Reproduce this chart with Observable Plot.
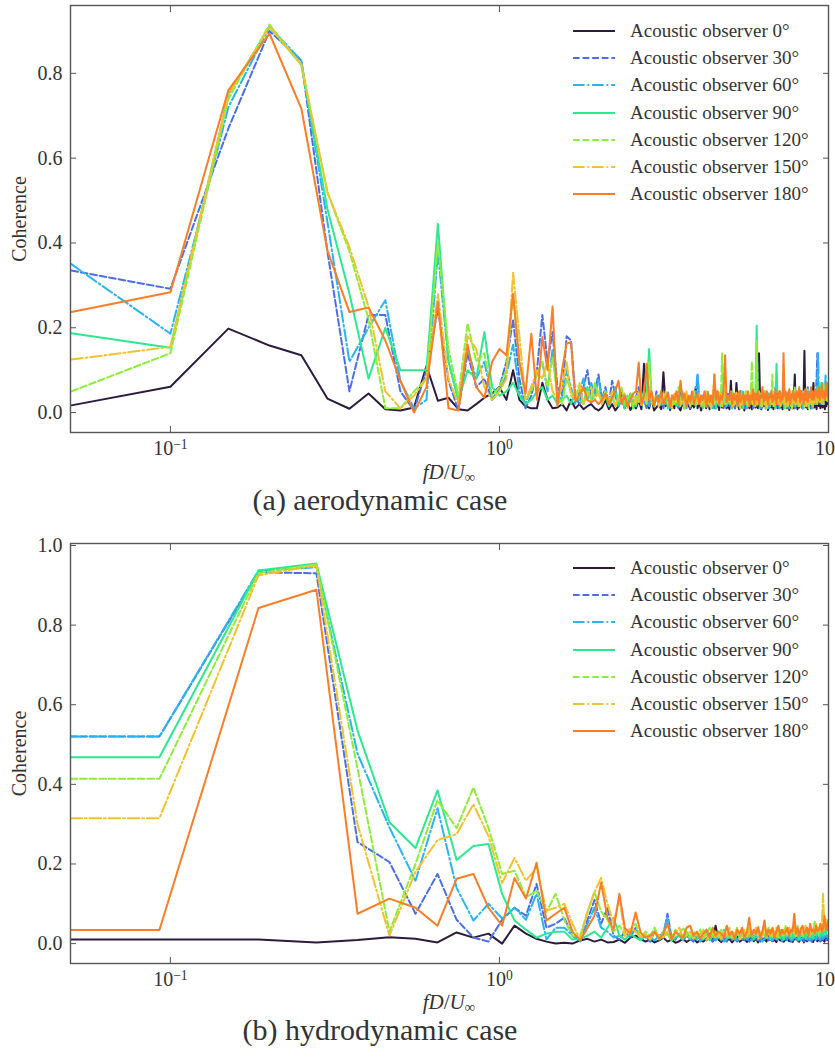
<!DOCTYPE html>
<html>
<head>
<meta charset="utf-8">
<script src="https://cdn.jsdelivr.net/npm/d3@7"></script>
<script src="https://cdn.jsdelivr.net/npm/@observablehq/plot@0.6"></script>
<style>
  html, body { margin: 0; padding: 0; background: #fff; overflow: hidden; }
  body { width: 835px; height: 1057px; position: relative; font-family: "Liberation Serif", "DejaVu Serif", serif; color: #333; }
  .abs { position: absolute; }
  .legend { font-size: 19px; color: #333; }
  .legend .row { display: flex; align-items: center; height: 27.3px; white-space: nowrap; }
  .legend svg { margin-right: 15px; }
  .xlabel { font-size: 21px; text-align: center; width: 898px; left: 0; line-height: 20px; }
  .xlabel sub { font-size: 0.7em; vertical-align: -0.2em; line-height: 0; }
  .caption { font-size: 30px; text-align: center; width: 760px; left: 0; line-height: 24px; }
</style>
</head>
<body>
<script>
// Observer angles and their line styles
const angles = ["0", "30", "60", "90", "120", "150", "180"];
const colors = ["#2c1b3d", "#4a6ee6", "#28b4f0", "#2de88e", "#8ded3a", "#f2c12e", "#fb7d27"];
const dashes = [null, "6.7,2.9", "11.5,2.9,1.8,2.9", null, "6.7,2.9", "11.5,2.9,1.8,2.9", null];

// Frequency resolution of each spectrum (fD/U)
const binA = 0.05;
const binB = 0.0926;

// x tick values (log axis) and y tick values
const xTicks = [0.1, 1, 10];
const yTicksA = [0, 0.2, 0.4, 0.6, 0.8];
const yTicksB = [0, 0.2, 0.4, 0.6, 0.8, 1.0];

// (a) aerodynamic case: coherence per frequency bin (k = 1..200)
const aero0 = [
  .017,.061,.198,.158,.135,.033,.009,.045,.008,.005,.012,.11,.028,.035,.008,.005,.02,.035,.045,.06,
  .03,.10,.03,.015,.01,.01,.07,.03,.01,.012,.02,.005,.03,.01,.02,.008,.015,.02,.01,.005,
  .012,.03,.008,.02,.005,.015,.04,.01,.025,.006,.018,.01,.03,.008,.115,.02,.01,.035,.005,.012,
  .02,.008,.095,.015,.03,.006,.02,.01,.04,.012,.005,.025,.01,.03,.018,.008,.02,.012,.06,.01,
  .025,.005,.018,.03,.01,.04,.008,.02,.015,.05,.01,.025,.006,.03,.012,.02,.045,.01,.018,.008,
  .075,.015,.03,.01,.07,.02,.008,.035,.012,.025,.005,.04,.015,.02,.01,.03,.008,.05,.018,.012,
  .025,.01,.14,.02,.008,.03,.015,.045,.01,.022,.006,.035,.018,.012,.04,.008,.025,.015,.03,.01,
  .02,.05,.012,.028,.008,.035,.015,.02,.01,.045,.018,.006,.03,.012,.025,.01,.04,.09,.015,.02,
  .008,.03,.012,.05,.018,.025,.01,.035,.146,.02,.012,.03,.008,.04,.015,.025,.01,.02,.035,.07,
  .012,.03,.018,.008,.04,.02,.015,.03,.01,.025,.045,.012,.02,.035,.008,.03,.015,.04,.02,.03
];
const aero30 = [
  .335,.292,.67,.90,.83,.38,.05,.23,.23,.05,.005,.10,.245,.075,.005,.14,.06,.08,.03,.06,
  .12,.22,.08,.01,.04,.10,.23,.12,.19,.06,.04,.18,.17,.04,.02,.06,.10,.03,.05,.09,
  .03,.06,.02,.075,.04,.015,.05,.03,.02,.045,.01,.035,.06,.02,.03,.01,.04,.025,.015,.05,
  .02,.03,.01,.045,.025,.015,.04,.02,.03,.01,.05,.02,.035,.015,.03,.01,.04,.02,.03,.087,
  .02,.04,.015,.03,.01,.045,.025,.02,.035,.01,.03,.05,.015,.025,.04,.01,.03,.02,.045,.015,
  .03,.02,.04,.01,.035,.025,.015,.05,.02,.03,.01,.04,.025,.015,.035,.02,.045,.01,.03,.02,
  .04,.015,.03,.025,.01,.05,.02,.035,.015,.03,.045,.01,.025,.04,.02,.03,.015,.06,.02,.03,
  .01,.04,.025,.02,.035,.015,.03,.05,.02,.01,.04,.025,.03,.015,.045,.02,.035,.01,.03,.025,
  .04,.015,.03,.02,.05,.01,.035,.025,.02,.04,.015,.03,.06,.02,.025,.035,.01,.04,.03,.02,
  .045,.025,.03,.08,.14,.05,.03,.06,.02,.04,.07,.03,.05,.02,.06,.04,.03,.05,.03,.04
];
const aero60 = [
  .35,.186,.72,.91,.83,.45,.12,.20,.265,.075,.01,.03,.38,.12,.03,.15,.08,.12,.03,.05,
  .09,.16,.05,.02,.06,.09,.12,.05,.15,.04,.03,.10,.06,.02,.05,.08,.03,.07,.04,.08,
  .03,.05,.02,.04,.06,.015,.03,.045,.02,.035,.01,.04,.025,.05,.02,.03,.015,.045,.02,.03,
  .04,.015,.03,.02,.05,.01,.035,.025,.04,.015,.03,.02,.045,.01,.03,.025,.04,.02,.05,.09,
  .03,.02,.04,.015,.03,.05,.02,.035,.01,.04,.025,.03,.015,.045,.02,.03,.05,.015,.035,.02,
  .04,.01,.03,.025,.045,.02,.035,.015,.03,.05,.02,.04,.01,.03,.025,.04,.02,.05,.015,.03,
  .035,.02,.045,.01,.03,.025,.04,.015,.05,.02,.03,.01,.04,.025,.035,.02,.045,.015,.03,.02,
  .04,.01,.035,.025,.05,.02,.03,.015,.04,.025,.035,.01,.045,.02,.03,.05,.015,.04,.02,.03,
  .025,.04,.015,.035,.02,.05,.01,.03,.045,.02,.035,.015,.04,.025,.05,.02,.03,.04,.015,.035,
  .02,.045,.03,.05,.07,.14,.04,.06,.03,.05,.025,.04,.06,.03,.05,.09,.04,.06,.03,.05
];
const aero90 = [
  .187,.153,.75,.91,.82,.48,.28,.08,.20,.10,.10,.10,.445,.12,.03,.10,.08,.19,.06,.04,
  .05,.07,.04,.02,.03,.05,.06,.03,.04,.02,.03,.04,.02,.05,.03,.02,.06,.03,.04,.05,
  .02,.04,.015,.03,.05,.02,.035,.01,.04,.025,.03,.015,.045,.02,.03,.05,.15,.03,.02,.04,
  .015,.03,.02,.045,.01,.03,.025,.04,.015,.035,.02,.05,.01,.03,.025,.04,.02,.03,.015,.04,
  .025,.035,.01,.045,.02,.03,.015,.04,.025,.05,.01,.03,.02,.04,.06,.025,.035,.015,.03,.02,
  .045,.01,.03,.025,.04,.015,.035,.02,.05,.01,.03,.025,.04,.015,.035,.02,.06,.03,.015,.04,
  .205,.03,.02,.04,.015,.035,.025,.05,.01,.03,.02,.045,.015,.03,.04,.02,.035,.01,.115,.03,
  .02,.04,.015,.035,.025,.05,.01,.03,.02,.045,.015,.04,.025,.03,.01,.05,.02,.035,.015,.04,
  .025,.03,.05,.015,.04,.02,.035,.01,.045,.025,.03,.02,.05,.015,.04,.03,.02,.045,.01,.035,
  .03,.05,.02,.04,.06,.03,.05,.025,.04,.07,.03,.05,.02,.04,.06,.03,.045,.05,.03,.04
];
const aero120 = [
  .05,.14,.74,.915,.82,.52,.38,.22,.01,.01,.05,.08,.40,.15,.04,.21,.12,.14,.04,.06,
  .10,.28,.12,.03,.05,.09,.12,.06,.13,.04,.02,.08,.05,.03,.06,.02,.05,.03,.07,.04,
  .03,.05,.02,.04,.015,.035,.06,.02,.03,.045,.01,.04,.025,.03,.05,.02,.12,.035,.015,.04,
  .025,.05,.02,.03,.045,.015,.04,.02,.035,.06,.02,.03,.01,.045,.025,.035,.02,.05,.015,.03,
  .04,.02,.035,.015,.05,.025,.03,.01,.045,.02,.035,.03,.05,.015,.14,.03,.02,.04,.025,.035,
  .02,.05,.015,.03,.04,.025,.035,.01,.045,.02,.03,.05,.015,.04,.025,.03,.12,.02,.035,.015,
  .17,.03,.025,.045,.015,.035,.02,.05,.03,.01,.04,.025,.035,.02,.09,.015,.03,.045,.02,.035,
  .025,.05,.015,.04,.03,.02,.045,.01,.035,.025,.05,.02,.03,.015,.04,.025,.035,.06,.02,.03,
  .045,.015,.035,.02,.05,.03,.025,.04,.015,.035,.02,.055,.03,.01,.04,.025,.05,.02,.035,.03,
  .02,.045,.03,.05,.025,.04,.06,.03,.05,.035,.02,.045,.07,.03,.04,.055,.03,.05,.025,.04
];
const aero150 = [
  .125,.155,.75,.91,.82,.52,.39,.25,.05,.01,.04,.08,.28,.08,.02,.18,.15,.06,.03,.05,
  .08,.33,.18,.03,.06,.10,.08,.12,.05,.03,.06,.12,.04,.03,.07,.02,.04,.06,.03,.05,
  .02,.04,.03,.05,.015,.035,.025,.045,.01,.03,.04,.02,.05,.015,.035,.025,.06,.02,.03,.04,
  .015,.035,.025,.05,.02,.03,.01,.045,.025,.04,.015,.035,.02,.05,.03,.015,.04,.025,.035,.02,
  .045,.015,.03,.025,.05,.02,.035,.01,.04,.09,.025,.03,.02,.045,.015,.035,.05,.02,.03,.025,
  .04,.015,.035,.02,.05,.025,.03,.01,.045,.02,.035,.03,.05,.015,.04,.025,.03,.02,.045,.015,
  .035,.02,.05,.025,.03,.015,.045,.02,.035,.01,.04,.03,.025,.05,.02,.035,.015,.04,.025,.03,
  .02,.045,.015,.035,.03,.05,.02,.025,.04,.015,.035,.02,.05,.03,.01,.04,.025,.045,.02,.035,
  .03,.02,.045,.015,.04,.025,.035,.05,.02,.03,.015,.045,.025,.04,.02,.035,.05,.03,.015,.04,
  .025,.05,.03,.045,.02,.04,.03,.055,.025,.04,.03,.05,.02,.045,.035,.03,.05,.025,.04,.03
];
const aero180 = [
  .237,.284,.76,.894,.717,.382,.237,.248,.17,.075,.0,.06,.26,.01,.005,.16,.06,.035,.12,.15,
  .135,.28,.12,.045,.186,.03,.178,.10,.25,.016,.10,.163,.165,.028,.04,.06,.03,.024,.03,.02,
  .03,.045,.02,.035,.05,.075,.02,.04,.015,.03,.045,.05,.118,.02,.04,.115,.03,.05,.015,.04,
  .025,.05,.02,.035,.045,.015,.04,.03,.05,.02,.075,.03,.045,.015,.04,.025,.05,.02,.035,.045,
  .02,.04,.03,.05,.015,.045,.025,.04,.02,.09,.03,.05,.02,.04,.03,.05,.135,.025,.04,.03,
  .05,.02,.045,.03,.04,.015,.05,.025,.035,.045,.02,.04,.03,.05,.015,.04,.03,.055,.02,.045,
  .03,.05,.02,.04,.035,.06,.025,.045,.03,.05,.02,.04,.035,.05,.025,.04,.03,.055,.02,.045,
  .035,.05,.025,.04,.03,.14,.04,.05,.025,.045,.03,.055,.02,.04,.035,.05,.03,.045,.025,.05,
  .035,.04,.06,.025,.05,.03,.045,.02,.04,.055,.03,.05,.025,.045,.035,.04,.06,.03,.05,.04,
  .03,.055,.04,.05,.035,.045,.06,.03,.05,.04,.065,.035,.05,.045,.03,.055,.04,.07,.035,.05
];

// (b) hydrodynamic case: coherence per frequency bin (k = 1..108)
const hydro0 = [
  .01,.01,.003,.009,.016,.012,.003,.028,.015,.025,.0,.045,.025,.012,.005,.0,.002,.0,.008,.012,
  .005,.01,.003,.004,.01,.002,.015,.02,.012,.005,.01,.003,.008,.015,.005,.01,.002,.006,.012,.004,
  .01,.015,.003,.008,.005,.012,.02,.006,.045,.01,.004,.015,.008,.012,.003,.01,.018,.005,.009,.012,
  .004,.01,.02,.006,.012,.003,.015,.008,.01,.005,.03,.012,.006,.01,.004,.015,.008,.012,.005,.01,
  .018,.006,.01,.004,.012,.02,.008,.005,.015,.01,.003,.012,.006,.018,.008,.01,.004,.015,.01,.006,
  .012,.02,.008,.01,.005,.015,.01,.008
];
const hydro30 = [
  .52,.933,.93,.255,.205,.075,.175,.06,.015,.005,.06,.09,.07,.15,.04,.05,.065,.02,.005,.06,
  .11,.05,.09,.02,.01,.03,.015,.04,.01,.02,.005,.03,.012,.02,.075,.015,.01,.025,.008,.02,
  .012,.005,.02,.01,.015,.008,.025,.005,.012,.02,.008,.015,.005,.02,.01,.012,.005,.018,.01,.008,
  .015,.005,.012,.02,.008,.01,.005,.015,.01,.02,.008,.012,.005,.015,.01,.008,.02,.005,.012,.01,
  .008,.015,.005,.012,.02,.01,.005,.015,.008,.012,.005,.02,.01,.008,.015,.005,.012,.01,.02,.008,
  .012,.005,.015,.01,.02,.008,.012,.01
];
const hydro60 = [
  .52,.937,.945,.477,.292,.158,.34,.14,.058,.10,.063,.09,.06,.125,.01,.04,.04,.02,.008,.05,
  .09,.04,.03,.015,.02,.01,.025,.035,.01,.02,.015,.008,.02,.03,.065,.01,.015,.02,.008,.025,
  .01,.015,.02,.005,.012,.025,.01,.018,.008,.015,.02,.005,.012,.018,.01,.025,.008,.015,.012,.02,
  .01,.02,.008,.015,.025,.01,.018,.005,.012,.02,.01,.015,.008,.022,.012,.01,.018,.008,.015,.02,
  .01,.025,.012,.008,.018,.015,.01,.022,.008,.015,.012,.02,.01,.018,.008,.025,.012,.015,.01,.02,
  .015,.01,.025,.012,.02,.03,.015,.02
];
const hydro90 = [
  .468,.937,.955,.535,.305,.24,.385,.21,.245,.25,.125,.058,.035,.015,.025,.03,.03,.01,.012,.02,
  .03,.015,.04,.065,.02,.01,.025,.015,.008,.02,.012,.03,.01,.018,.025,.008,.015,.02,.01,.03,
  .015,.02,.01,.025,.012,.03,.008,.02,.015,.025,.01,.035,.012,.02,.015,.01,.025,.018,.03,.012,
  .02,.015,.03,.01,.025,.018,.012,.03,.02,.015,.035,.01,.025,.02,.012,.03,.015,.02,.01,.028,
  .018,.03,.012,.025,.015,.035,.02,.01,.03,.018,.025,.012,.032,.02,.015,.028,.012,.035,.02,.025,
  .03,.015,.035,.02,.04,.025,.05,.03
];
const hydro120 = [
  .414,.93,.953,.44,.03,.20,.36,.29,.392,.29,.175,.183,.116,.133,.08,.125,.06,.02,.02,.08,
  .13,.08,.06,.03,.045,.02,.035,.05,.015,.03,.02,.04,.012,.03,.02,.015,.035,.02,.04,.025,
  .015,.03,.02,.035,.012,.025,.04,.018,.03,.015,.035,.02,.045,.015,.03,.02,.04,.025,.015,.035,
  .02,.04,.018,.03,.025,.045,.015,.035,.02,.03,.04,.018,.03,.025,.04,.015,.035,.03,.02,.045,
  .025,.035,.02,.04,.03,.018,.045,.025,.03,.02,.04,.028,.035,.02,.045,.03,.025,.058,.03,.04,
  .025,.045,.03,.05,.035,.06,.04,.05
];
const hydro150 = [
  .315,.925,.95,.30,.02,.18,.26,.275,.35,.27,.152,.215,.158,.19,.083,.09,.10,.05,.01,.08,
  .13,.165,.10,.05,.115,.02,.04,.03,.015,.025,.01,.03,.02,.015,.03,.01,.025,.04,.015,.02,
  .03,.012,.025,.018,.035,.01,.02,.03,.015,.025,.012,.03,.02,.04,.015,.025,.035,.01,.02,.03,
  .015,.035,.02,.025,.04,.012,.03,.02,.045,.015,.025,.035,.02,.03,.015,.04,.025,.02,.035,.03,
  .02,.04,.025,.03,.05,.018,.035,.025,.04,.02,.03,.045,.025,.035,.02,.04,.03,.025,.05,.035,
  .04,.03,.045,.125,.035,.06,.04,.045
];
const hydro180 = [
  .034,.843,.889,.075,.113,.09,.045,.163,.175,.09,.045,.165,.113,.203,.058,.075,.09,.03,.008,.04,
  .07,.153,.065,.035,.125,.038,.025,.078,.028,.015,.02,.03,.012,.025,.05,.01,.03,.02,.015,.04,
  .045,.02,.03,.012,.025,.035,.015,.04,.02,.03,.025,.015,.045,.02,.03,.012,.035,.025,.04,.015,
  .03,.065,.02,.035,.025,.04,.015,.03,.058,.02,.035,.025,.04,.015,.03,.045,.02,.035,.025,.03,
  .04,.02,.035,.03,.075,.025,.04,.02,.035,.045,.025,.03,.04,.02,.05,.03,.035,.025,.045,.03,
  .035,.05,.03,.04,.07,.035,.045,.06
];

const aeroSeries = [aero0, aero30, aero60, aero90, aero120, aero150, aero180];
const hydroSeries = [hydro0, hydro30, hydro60, hydro90, hydro120, hydro150, hydro180];

const xDomain = [0.0497, 10];

// Rows for one observer: value per bin, optionally held flat to the left edge of the axis
function rowsFor(values, bin, holdLeft) {
  const rows = values.map((v, i) => ({f: (i + 1) * bin, v}));
  if (holdLeft) rows.unshift({f: xDomain[0], v: values[0]});
  return rows;
}

function coherencePlot(series, bin, yDomain, yTicks, height, marginTop, holdLeft) {
  const lines = series.map((values, i) =>
    Plot.line(rowsFor(values, bin, holdLeft), {
      x: "f", y: "v", stroke: colors[i], strokeWidth: 2,
      strokeDasharray: dashes[i], clip: true
    })
  );
  const blank = () => "";
  const svg = Plot.plot({
    width: 835, height,
    marginTop, marginBottom: 30, marginLeft: 70, marginRight: 7,
    style: {fontFamily: "'Liberation Serif', serif", fontSize: "20px", color: "#333", background: "transparent", overflow: "visible"},
    x: {type: "log", domain: xDomain},
    y: {domain: yDomain},
    marks: [
      ...lines,
      Plot.frame({stroke: "#555", strokeWidth: 1.4}),
      Plot.axisX({anchor: "bottom", ticks: xTicks, tickSize: 0, tickPadding: 8,
        tickFormat: d => `10|${Math.round(Math.log10(d))}`, label: null}),
      Plot.axisX({anchor: "bottom", ticks: xTicks, tickSize: -6, tickFormat: blank, label: null, stroke: "#555"}),
      Plot.axisX({anchor: "top", ticks: xTicks, tickSize: -6, tickFormat: blank, label: null, stroke: "#555"}),
      Plot.axisY({anchor: "left", ticks: yTicks, tickSize: 0, tickPadding: 8,
        tickFormat: d3.format(".1f"), label: "Coherence", labelAnchor: "center",
        labelOffset: 59, labelArrow: "none"}),
      Plot.axisY({anchor: "left", ticks: yTicks, tickSize: -6, tickFormat: blank, label: null, stroke: "#555"}),
      Plot.axisY({anchor: "right", ticks: yTicks, tickSize: -6, tickFormat: blank, label: null, stroke: "#555"})
    ]
  });
  // power-of-ten tick labels with a raised exponent
  svg.querySelectorAll('[aria-label="x-axis tick label"] text').forEach(t => {
    const s = t.textContent;
    if (!s.includes("|")) return;
    const [base, exp] = s.split("|");
    const e = exp.replace("-", "\u2212");
    t.textContent = "";
    const b = document.createElementNS("http://www.w3.org/2000/svg", "tspan");
    b.textContent = base;
    const sup = document.createElementNS("http://www.w3.org/2000/svg", "tspan");
    sup.textContent = e;
    sup.setAttribute("dy", "-0.45em");
    sup.setAttribute("font-size", "0.68em");
    t.appendChild(b);
    t.appendChild(sup);
  });
  return svg;
}

function legend(top) {
  const div = document.createElement("div");
  div.className = "abs legend";
  div.style.left = "573px";
  div.style.top = top + "px";
  angles.forEach((a, i) => {
    const row = document.createElement("div");
    row.className = "row";
    const dash = dashes[i] ? ` stroke-dasharray="${dashes[i]}"` : "";
    row.innerHTML = `<svg width="42" height="10"><line x1="0" x2="42" y1="5" y2="5" stroke="${colors[i]}" stroke-width="2.2"${dash}/></svg><span>Acoustic observer ${a}\u00b0</span>`;
    div.appendChild(row);
  });
  return div;
}

function place(el, top) {
  el.style.position = "absolute";
  el.style.left = "0px";
  el.style.top = top + "px";
  document.body.appendChild(el);
}

function textBlock(cls, html, top) {
  const d = document.createElement("div");
  d.className = "abs " + cls;
  d.style.top = top + "px";
  d.innerHTML = html;
  document.body.appendChild(d);
}

const xLabelHtml = "<i>fD</i>/<i>U</i><sub>\u221e</sub>";

// (a) aerodynamic case
place(coherencePlot(aeroSeries, binA, [-0.047, 0.96], yTicksA, 462, 5, false), 0);
document.body.appendChild(legend(17));
textBlock("xlabel", xLabelHtml, 462);
textBlock("caption", "(a) aerodynamic case", 488);

// (b) hydrodynamic case
place(coherencePlot(hydroSeries, binB, [-0.05, 1.005], yTicksB, 468, 18, true), 525);
document.body.appendChild(legend(525 + 29));
textBlock("xlabel", xLabelHtml, 992);
textBlock("caption", "(b) hydrodynamic case", 1018);
</script>
</body>
</html>
